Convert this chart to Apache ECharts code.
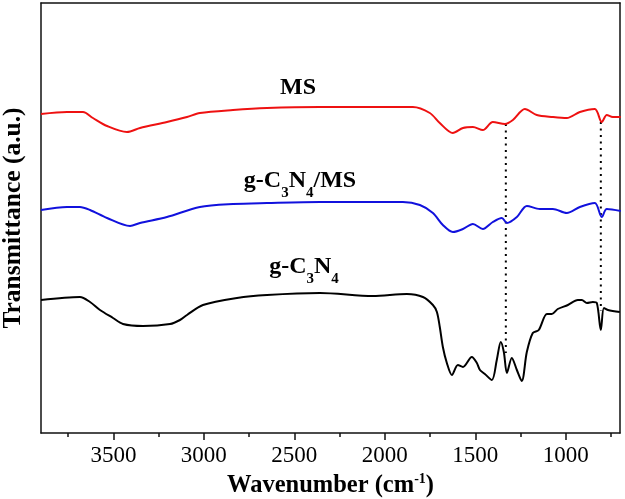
<!DOCTYPE html>
<html>
<head>
<meta charset="utf-8">
<script src="https://cdn.jsdelivr.net/npm/echarts@6/dist/echarts.min.js"></script>
<style>html,body{margin:0;padding:0;background:#fff}#c{width:625px;height:499px}</style>
</head>
<body>
<div id="c"></div>
<script>
// wavenumber (cm-1), transmittance (a.u., offset per curve)
var msData = [[3900,319],[3756,321],[3668,321],[3613,315],[3535,307],[3425,301],[3353,305],[3204,311],[3093,316],[3022,320],[2839,323],[2651,325],[2358,326],[1845,326],[1751,320],[1696,310],[1624,300],[1568,305],[1513,306],[1458,303],[1403,311],[1336,309],[1292,313],[1226,324],[1160,318],[1071,316],[994,315],[922,321],[839,324],[801,311],[773,318],[740,316],[696,316]];
var compData = [[3900,223],[3756,226],[3685,226],[3629,223],[3535,215],[3408,207],[3353,210],[3204,216],[3022,226],[2839,229],[2651,230],[2358,231],[1900,231],[1806,228],[1734,220],[1679,208],[1624,201],[1568,204],[1513,209],[1458,204],[1403,211],[1353,215],[1325,210],[1270,216],[1215,227],[1143,224],[1071,224],[994,220],[922,226],[839,230],[801,216],[773,224],[696,222]];
var gcnData = [[3900,133],[3685,136],[3629,131],[3574,123],[3502,115],[3447,109],[3336,107],[3187,109],[3132,113],[3093,118],[3005,128],[2817,135],[2651,138],[2358,140],[2066,137],[1878,139],[1789,136],[1734,128],[1712,121],[1696,106],[1679,86],[1657,70],[1629,58],[1596,68],[1568,66],[1519,76],[1491,70],[1474,63],[1447,59],[1408,53],[1381,73],[1359,91],[1342,81],[1325,60],[1298,75],[1270,63],[1243,52],[1215,81],[1182,100],[1149,103],[1104,119],[1077,119],[1044,124],[988,128],[933,133],[911,133],[883,130],[850,131],[828,130],[806,103],[789,125],[767,123],[701,121]];
// dotted guide lines: [wavenumber, top value, bottom value]
var guides = [[1331,309,80],[806,311,122]];
var majorTicks = [3500,3000,2500,2000,1500,1000];
var minorTicks = [3750,3250,2750,2250,1750,1250,750];

var FONT = 'Liberation Serif';
var chart = echarts.init(document.getElementById('c'));
var guideSeries = guides.map(function(g){
  return {type:'line', data:[[g[0],g[1]],[g[0],g[2]]], symbol:'none', silent:true,
    lineStyle:{color:'#000', width:2, type:[2,4.5]}, z:1};
});
var lineCommon = {type:'line', symbol:'none', smooth:0.3, lineStyle:{width:2}};
var txtRich = {
  b:{fontFamily:FONT, fontWeight:'bold', fontSize:24, color:'#000', lineHeight:28, verticalAlign:'middle'},
  s:{fontFamily:FONT, fontWeight:'bold', fontSize:15, color:'#000', lineHeight:15, verticalAlign:'bottom', padding:[0,0,-6,0]}
};
chart.setOption({
  animation:false,
  grid:{left:41, right:5, top:3, bottom:66, containLabel:false, outerBoundsMode:'none'},
  xAxis:[
    {type:'value', min:700, max:3900, inverse:true, position:'bottom',
     axisLine:{show:true, lineStyle:{color:'#111', width:1.5}},
     axisTick:{show:true, customValues:majorTicks, length:7, inside:false, lineStyle:{color:'#111', width:1.5}},
     axisLabel:{customValues:majorTicks, formatter:function(v){return String(v);}, fontFamily:FONT, fontSize:23, color:'#000', margin:11},
     splitLine:{show:false},
     name:'{b|Wavenumber (cm}{sup|-1}{b|)}', nameLocation:'middle', nameGap:29,
     nameTextStyle:{rich:{
       b:{fontFamily:FONT, fontWeight:'bold', fontSize:24.5, color:'#000', lineHeight:28},
       sup:{fontFamily:FONT, fontWeight:'bold', fontSize:14, color:'#000', verticalAlign:'top', lineHeight:28, padding:[0,0,8,0]}
     }}},
    {type:'value', min:700, max:3900, inverse:true, position:'bottom',
     axisLine:{show:false}, axisLabel:{show:false}, splitLine:{show:false},
     axisTick:{show:true, customValues:minorTicks, length:4, lineStyle:{color:'#111', width:1.5}}},
    {type:'value', min:700, max:3900, inverse:true, position:'top',
     axisLine:{show:true, lineStyle:{color:'#111', width:1.5}}, axisTick:{show:false}, axisLabel:{show:false}, splitLine:{show:false}}
  ],
  yAxis:[
    {type:'value', min:0, max:430, position:'left',
     axisLine:{show:true, lineStyle:{color:'#111', width:1.5}}, axisTick:{show:false}, axisLabel:{show:false}, splitLine:{show:false},
     name:'Transmittance (a.u.)', nameLocation:'middle', nameGap:15,
     nameTextStyle:{fontFamily:FONT, fontWeight:'bold', fontSize:25.5, color:'#000'}},
    {type:'value', min:0, max:430, position:'right',
     axisLine:{show:true, lineStyle:{color:'#111', width:1.5}}, axisTick:{show:false}, axisLabel:{show:false}, splitLine:{show:false}}
  ],
  series: guideSeries.concat([
    Object.assign({}, lineCommon, {name:'MS', data:msData, lineStyle:{width:2, color:'#ee1111'}, z:3}),
    Object.assign({}, lineCommon, {name:'g-C3N4/MS', data:compData, lineStyle:{width:2, color:'#1111dd'}, z:3}),
    Object.assign({}, lineCommon, {name:'g-C3N4', data:gcnData, lineStyle:{width:2, color:'#000'}, z:3})
  ]),
  graphic:[
    {type:'text', x:298, y:88, style:{text:'{b|MS}', rich:txtRich, align:'center', verticalAlign:'middle'}},
    {type:'text', x:300, y:181, style:{text:'{b|g-C}{s|3}{b|N}{s|4}{b|/MS}', rich:txtRich, align:'center', verticalAlign:'middle'}},
    {type:'text', x:304, y:267, style:{text:'{b|g-C}{s|3}{b|N}{s|4}', rich:txtRich, align:'center', verticalAlign:'middle'}}
  ]
});
</script>
</body>
</html>
